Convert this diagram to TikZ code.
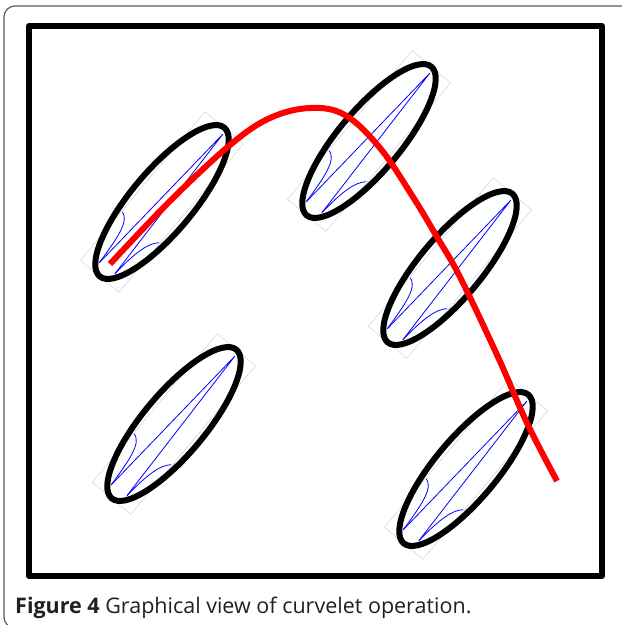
\documentclass[tikz,border=0pt]{standalone}
\usepackage{fontspec}
\newfontfamily\capfont{Open Sans}
\definecolor{cvblue}{RGB}{0,0,255}
\definecolor{cvpatch}{RGB}{190,205,230}
\definecolor{cvred}{RGB}{255,0,0}
\definecolor{cvframe}{RGB}{90,90,90}
\definecolor{cvcap}{RGB}{35,31,32}
\usetikzlibrary{shapes.geometric}

\begin{document}
\begin{tikzpicture}[x=1pt,y=-1pt,
  wedge/.style={draw=cvblue,line width=0.8pt},
  patch/.style={draw=cvpatch,line width=0.4pt},
  blob/.style={draw,ellipse,line width=6pt,minimum width=194pt,
    minimum height=62pt,inner sep=0pt,rotate=50},
  redcurve/.style={draw=cvred,line width=6pt}]
  \clip (0,0) rectangle (622,625);
  \fill[white] (0,0) rectangle (622,625);
  % Outer box
  \draw[cvframe,line width=1.2pt,rounded corners=11pt]
    (640,6) -- (4,6) -- (4,628) -- (40,628);
  % Image frame
  \draw[line width=6pt,line join=round] (29,26) rectangle (602,576);
  % Curvelets
  \foreach \nm/\cx/\cy in {e1/162/202,e2/369/141,e3/450/268,e4/174/424,e5/466/469}{
    \coordinate (\nm) at (\cx,\cy);
    \begin{scope}[shift={(\nm)},rotate=50]
      \draw[patch] (-97,-25) rectangle (97,25);
      \draw[wedge] (-87,-9) -- (91,3) -- (-85,10);
      \draw[wedge] (-87,-9) .. controls (-55,-11) and (-36,-13) .. (-33,-24);
      \draw[wedge] (-85,10) .. controls (-55,12) and (-40,16) .. (-33,24);
    \end{scope}
    \node[blob] (\nm ell) at (\nm) {};
  }
  % Curve
  \draw[redcurve] plot[smooth,tension=0.6] coordinates {(110,264) (170,201)
    (230,145) (270,118) (310,108) (345,115) (380,148) (413,197) (437,237)
    (460,277) (498,357) (527,423) (557,481)};
  % Caption
  \node[anchor=base west,inner sep=0pt,text=cvcap,
    font=\capfont\fontsize{21.5}{24}\selectfont] (caption) at (15,613)
    {\textbf{Figure 4} Graphical view of curvelet operation.};
\end{tikzpicture}
\end{document}
